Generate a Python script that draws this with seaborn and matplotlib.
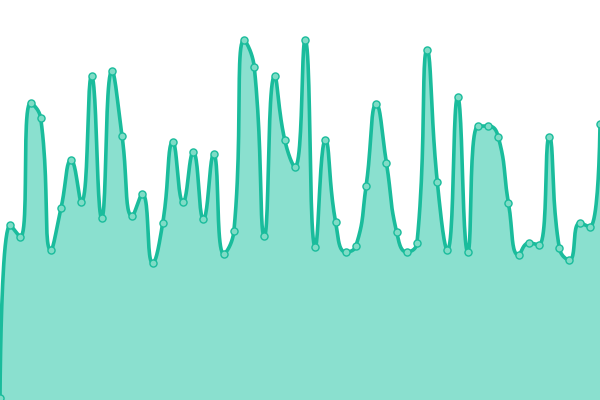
import numpy as np
import pandas as pd
import matplotlib
matplotlib.use("Agg")
import matplotlib.pyplot as plt
import seaborn as sns

# values (0 = bottom edge, 400 = top edge)
values = [2, 175, 163, 297, 282, 150, 192, 240, 198, 324,
          182, 329, 264, 184, 206, 137, 177, 258, 198, 248,
          181, 246, 146, 169, 360, 333, 164, 324, 260, 233,
          360, 153, 260, 178, 148, 154, 214, 296, 237, 168,
          148, 157, 350, 218, 150, 303, 148, 274, 274, 263,
          197, 145, 157, 155, 263, 152, 140, 177, 173, 276]
idx = list(range(len(values)))

line_color = "#1abc9c"
fill_color = "#8ae0cf"

W, H = 600, 400
x_px = W / (len(values) - 1)  # pixels per index step


def smooth_curve(xs, ys, smooth=0.5, n=24):
    # bezier smoothing (echarts-like), computed in pixel space
    px = np.asarray(xs, float) * x_px
    py = np.asarray(ys, float)
    m = len(px)
    cp_out = [None] * m
    cp_in = [None] * m
    cp_out[0] = (px[0], py[0])
    cp_in[m - 1] = (px[m - 1], py[m - 1])
    for i in range(1, m - 1):
        x, y = px[i], py[i]
        x0, y0 = px[i - 1], py[i - 1]
        x1, y1 = px[i + 1], py[i + 1]
        vx, vy = x1 - x0, y1 - y0
        lp = np.hypot(x - x0, y - y0)
        ln = np.hypot(x1 - x, y1 - y)
        r = ln / (lp + ln)
        nx = x + vx * smooth * r
        ny = y + vy * smooth * r
        nx = min(max(nx, min(x1, x)), max(x1, x))
        ny = min(max(ny, min(y1, y)), max(y1, y))
        vx, vy = nx - x, ny - y
        cx = x - vx * lp / ln
        cy = y - vy * lp / ln
        cx = min(max(cx, min(x0, x)), max(x0, x))
        cy = min(max(cy, min(y0, y)), max(y0, y))
        vx, vy = x - cx, y - cy
        nx = x + vx * ln / lp
        ny = y + vy * ln / lp
        cp_in[i] = (cx, cy)
        cp_out[i] = (nx, ny)
    t = np.linspace(0, 1, n)[:, None]
    pts = []
    for i in range(m - 1):
        p0 = np.array([px[i], py[i]])
        p1 = np.array(cp_out[i])
        p2 = np.array(cp_in[i + 1])
        p3 = np.array([px[i + 1], py[i + 1]])
        seg = ((1 - t) ** 3) * p0 + 3 * ((1 - t) ** 2) * t * p1 + 3 * (1 - t) * t ** 2 * p2 + t ** 3 * p3
        pts.append(seg if i == 0 else seg[1:])
    pts = np.vstack(pts)
    return pts[:, 0] / x_px, pts[:, 1]


sx, sy = smooth_curve(idx, values)
df = pd.DataFrame({"idx": idx, "value": values})

sns.set_theme(style="white")
fig = plt.figure(figsize=(6, 4), dpi=100)
ax = fig.add_axes([0, 0, 1, 1])

ax.fill_between(sx, 0, sy, color=fill_color, linewidth=0)
ax.plot(sx, sy, color=line_color, linewidth=2.6, solid_capstyle="round", zorder=3)
sns.scatterplot(data=df, x="idx", y="value", ax=ax, s=26, color="#7fdcc6",
                edgecolor=line_color, linewidth=1.0, zorder=4, clip_on=False)

ax.set_xlim(0, len(values) - 1)
ax.set_ylim(0, 400)
ax.set_axis_off()

fig.savefig("out.png", dpi=100)
